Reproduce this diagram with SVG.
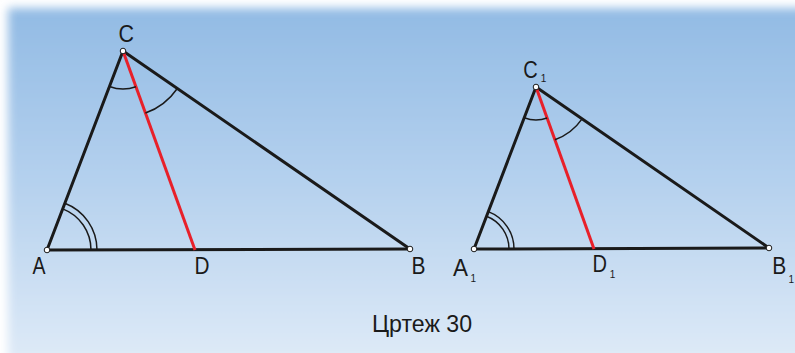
<svg xmlns="http://www.w3.org/2000/svg" width="795" height="353" viewBox="0 0 795 353">
<defs>
<linearGradient id="bg" x1="0" y1="0" x2="0" y2="1">
<stop offset="0" stop-color="#92bbe4"/>
<stop offset="0.5" stop-color="#b5d1ee"/>
<stop offset="1" stop-color="#deeaf7"/>
</linearGradient>
<filter id="soft" x="-5%" y="-5%" width="110%" height="110%">
<feGaussianBlur stdDeviation="5"/>
</filter>
<style>
.side{stroke:#1a1a1a;stroke-width:3;fill:none;stroke-linecap:round}
.red{stroke:#e8202a;stroke-width:3;fill:none}
.arc{stroke:#1a1a1a;stroke-width:1.5;fill:none}
.pt{fill:#fff;stroke:#1a1a1a;stroke-width:1}
.lbl{font-family:"Liberation Sans",Arial,sans-serif;font-size:23px;fill:#1a1a1a}
.sub{font-family:"Liberation Sans",Arial,sans-serif;font-size:10px;fill:#1a1a1a}
.cap{font-family:"Liberation Sans",Arial,sans-serif;font-size:24px;fill:#1a1a1a}
</style>
</defs>
<rect x="0" y="0" width="795" height="353" fill="#ffffff"/>
<rect x="8" y="8" width="800" height="352" fill="url(#bg)" filter="url(#soft)"/>

<g id="connectors">
<line class="side" x1="47" y1="250" x2="410" y2="249"/>
<line class="side" x1="47" y1="250" x2="123" y2="51"/>
<line class="side" x1="123" y1="51" x2="410" y2="249"/>
<line class="red" x1="123" y1="51" x2="195" y2="250"/>
<path class="arc" d="M109.44,86.50 A38,38 0 0 0 135.93,86.74"/>
<path class="arc" d="M145.45,113.07 A66,66 0 0 0 177.32,88.47"/>
<path class="arc" d="M91,250 A44,44 0 0 0 62.70,208.89"/>
<path class="arc" d="M97,250 A50,50 0 0 0 64.84,203.28"/>

<line class="side" x1="474" y1="249" x2="769" y2="248"/>
<line class="side" x1="474" y1="249" x2="536" y2="87"/>
<line class="side" x1="536" y1="87" x2="769" y2="248"/>
<line class="red" x1="536" y1="87" x2="594" y2="249"/>
<path class="arc" d="M524.21,117.82 A33,33 0 0 0 547.12,118.07"/>
<path class="arc" d="M554.88,139.72 A56,56 0 0 0 582.07,118.84"/>
<path class="arc" d="M509,249 A35,35 0 0 0 486.51,216.31"/>
<path class="arc" d="M514,249 A40,40 0 0 0 488.30,211.64"/>
</g>

<g id="A"><circle class="pt" cx="47" cy="250" r="2.8"/><text class="lbl" x="32.5" y="274" textLength="13" lengthAdjust="spacingAndGlyphs">A</text></g>
<g id="B"><circle class="pt" cx="410" cy="249" r="2.8"/><text class="lbl" x="411.5" y="274" textLength="14" lengthAdjust="spacingAndGlyphs">B</text></g>
<g id="C"><circle class="pt" cx="123" cy="51" r="2.8"/><text class="lbl" x="118.5" y="42" textLength="15.5" lengthAdjust="spacingAndGlyphs">C</text></g>
<g id="D"><text class="lbl" x="194.5" y="274" textLength="15" lengthAdjust="spacingAndGlyphs">D</text></g>

<g id="A1"><circle class="pt" cx="474" cy="249" r="2.8"/><text class="lbl" x="453" y="276" textLength="15" lengthAdjust="spacingAndGlyphs">A</text><text class="sub" x="470.5" y="282">1</text></g>
<g id="B1"><circle class="pt" cx="769" cy="248" r="2.8"/><text class="lbl" x="772.3" y="273.5" textLength="14" lengthAdjust="spacingAndGlyphs">B</text><text class="sub" x="788.5" y="283">1</text></g>
<g id="C1"><circle class="pt" cx="536" cy="87" r="2.8"/><text class="lbl" x="523.3" y="77.5" textLength="14.5" lengthAdjust="spacingAndGlyphs">C</text><text class="sub" x="540.8" y="82">1</text></g>
<g id="D1"><text class="lbl" x="592.5" y="272" textLength="14.5" lengthAdjust="spacingAndGlyphs">D</text><text class="sub" x="609.8" y="277.5">1</text></g>

<g id="caption"><text class="cap" x="372" y="332.3" textLength="100" lengthAdjust="spacingAndGlyphs">Цртеж 30</text></g>
</svg>
